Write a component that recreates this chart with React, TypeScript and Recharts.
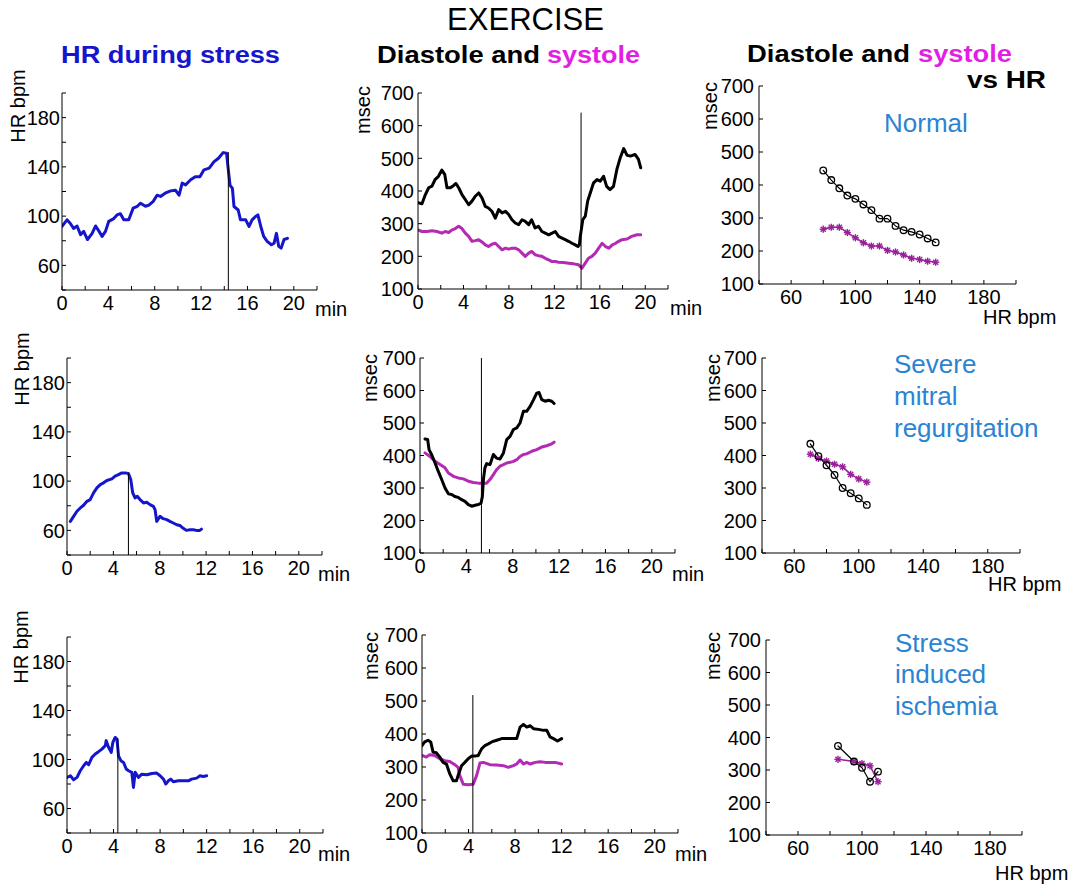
import React from 'react';
import { LineChart, Line, XAxis, YAxis, ReferenceLine } from 'recharts';

const FONT = '"Liberation Sans", Arial, Helvetica, sans-serif';
const BLUE = '#1515cc';
const MAG_LINE = '#b42ab4';
const MAG_TEXT = '#e31ee3';
const PURPLE = '#9a1f9a';
const COND = '#2b83d3';

// ---------- Row 1 : Normal ----------
const hrNormalT = [0,0.43,0.72,1.0,1.3,1.6,1.87,2.2,2.6,2.9,3.2,3.46,3.75,4.03,4.47,4.75,5.04,5.33,5.76,6.14,6.5,6.77,7.2,7.5,7.87,8.2,8.5,8.9,9.37,9.8,10.1,10.37,10.66,11.1,11.5,11.9,12.25,12.7,13.1,13.5,13.9,14.2,14.32,14.5,14.7,14.84,15.2,15.4,15.85,16.14,16.4,16.7,16.9,17.15,17.4,17.7,18.07,18.3,18.5,18.7,18.9,19.16,19.45];
const hrNormal = [91.6,97,94,90,92,85,87.6,81,86,92,87.6,83.5,87.6,95.7,98,101,102,97,97,106.5,108,110.5,108,109,112,117,116,118.6,120.5,121,117,126.8,125.4,129.5,132,132,137.6,139,144,147,151.6,151,140,125,122.7,107.8,105,97,97,91.6,97,99.7,101,91.6,83.5,79.5,76.8,78,86,75.4,74,81,82];
const diaNormalT = [0,0.35,0.65,0.94,1.23,1.5,1.8,2.1,2.35,2.55,2.85,3.14,3.34,3.58,3.87,4.16,4.46,4.75,5.04,5.34,5.63,5.92,6.2,6.5,6.8,7.1,7.4,7.7,7.98,8.27,8.56,8.86,9.15,9.44,9.74,10.0,10.3,10.6,10.9,11.2,11.5,11.8,12.08,12.37,12.67,12.96,13.25,13.55,13.84,14.08,14.2,14.28,14.37,14.5,14.72,14.93,15.16,15.45,15.75,16.04,16.33,16.6,16.9,17.2,17.5,17.8,18.1,18.4,18.7,19.1,19.4,19.6];
const diaNormal = [364,361,389,410,415,435,445,464,451,410,410,417,423,410,389,374,358,369,384,394,379,353,348,338,317,343,333,338,328,312,302,297,312,307,297,312,287,292,276,271,266,271,276,261,256,251,246,240,235,230,235,261,281,312,323,369,394,425,435,430,445,414,404,414,466,502,530,509,507,512,497,471];
const sysNormalT = [0,0.35,0.8,1.23,1.67,2.1,2.4,2.7,3.0,3.28,3.58,3.87,4.16,4.46,4.75,5.04,5.34,5.63,5.92,6.2,6.5,6.8,7.1,7.4,7.7,7.98,8.27,8.56,8.86,9.15,9.44,9.74,10.0,10.3,10.6,10.9,11.2,11.5,11.8,12.08,12.37,12.8,13.25,13.7,14.13,14.43,14.72,15.0,15.3,15.6,15.9,16.2,16.5,16.8,17.1,17.4,17.65,17.95,18.4,18.8,19.27,19.6];
const sysNormal = [281,276,276,278,276,271,276,273,281,285,292,285,271,261,246,248,251,244,235,230,237,240,230,220,225,222,225,225,220,210,200,210,215,205,202,200,194,189,184,184,182,181,179,177,174,164,179,194,200,210,225,240,230,225,235,240,246,251,253,261,266,266];
const hrNormalBins = [80,85,90,95,100,105,110,115,120,125,130,135,140,145,150];
const diaNormalVsHr = [444,415,390,368,358,341,324,298,298,276,263,258,250,238,226];
const sysNormalVsHr = [266,272,272,256,240,225,215,215,202,197,188,178,174,169,166];
const peakNormal = [14.35, 152, 640]; // time, HR at peak, top of marker (msec)

// ---------- Row 2 : Severe mitral regurgitation ----------
const hrMrT = [0.29,0.57,0.86,1.15,1.43,1.72,2.0,2.29,2.58,2.87,3.15,3.44,3.87,4.15,4.44,4.73,5.0,5.3,5.5,5.67,5.87,6.07,6.3,6.6,6.88,7.16,7.45,7.6,7.74,8.02,8.3,8.6,8.88,9.17,9.46,9.74,10.0,10.3,10.6,10.9,11.17,11.46,11.6];
const hrMr = [67.3,71.4,75.5,78.2,80.4,83.6,85,90.4,94.5,97.2,98.6,100.5,101.8,104,105.3,106.7,106.7,106.2,101.3,90.4,86.3,87.7,85,82.3,82.8,80.9,79.5,76.8,67.3,71.4,69.5,68.7,67.3,66,64.6,64,61.9,60,60.5,60.5,60,60,61];
const diaMrT = [0.43,0.66,0.78,1.0,1.3,1.58,1.87,2.16,2.45,2.73,3.0,3.3,3.6,3.88,4.17,4.46,4.75,5.04,5.27,5.38,5.47,5.6,5.75,6.04,6.33,6.6,6.9,7.2,7.48,7.77,8.06,8.35,8.63,8.92,9.2,9.5,9.8,10.07,10.27,10.5,10.8,11.08,11.37,11.57];
const diaMr = [451,449,418,403,377,351,326,300,282,280,274,271,264,259,249,244,247,249,254,274,326,362,375,372,403,392,389,408,449,459,480,485,500,536,536,551,572,592,594,572,567,570,567,560];
const sysMrT = [0.43,0.86,1.3,1.73,2.16,2.45,2.88,3.3,3.74,4.17,4.6,5.04,5.47,5.75,6.04,6.33,6.6,6.9,7.2,7.48,7.77,8.06,8.35,8.63,8.92,9.2,9.64,10.07,10.5,10.93,11.37,11.57];
const sysMr = [408,397,382,372,362,346,336,331,328,321,317,315,315,315,326,341,356,367,372,377,379,382,387,397,403,405,413,418,426,430,436,441];
const hrMrBins = [70,75,80,85,90,95,100,105];
const diaMrVsHr = [436,398,370,340,300,284,268,248];
const sysMrVsHr = [404,391,383,373,365,342,328,318];
const peakMr = [5.3, 106, 700];

// ---------- Row 3 : Stress induced ischemia ----------
const hrIscT = [0,0.29,0.57,0.86,1.14,1.43,1.66,1.86,2.14,2.43,2.71,3.0,3.29,3.37,3.57,3.8,3.94,4.14,4.29,4.43,4.63,4.86,5.09,5.29,5.57,5.71,5.86,6.14,6.43,6.86,7.29,7.71,8.0,8.29,8.49,8.71,8.91,9.14,9.57,10.0,10.43,10.71,11.14,11.43,11.71,12.0];
const hrIsc = [85.4,86.7,83.5,85.4,90.8,94.9,97.6,95.7,101.7,104.5,106.4,108.5,111.3,115.4,110,105.8,114,118,116.7,103,99,97.6,92.2,90.8,89.5,77.2,89.5,85.4,88,87.5,88.6,88.9,86.7,84,80,82.6,84,81.8,82.6,82.6,82.6,84,84.8,86.7,86.2,86.7];
const diaIscT = [0,0.23,0.52,0.75,0.95,1.24,1.53,1.81,2.1,2.39,2.68,2.96,3.1,3.4,3.68,3.97,4.26,4.55,4.83,5.12,5.41,5.7,5.99,6.42,6.85,7.28,7.71,8.14,8.43,8.72,9.0,9.3,9.58,10.0,10.45,10.73,11.0,11.3,11.65,12.0];
const diaIsc = [365,376,381,376,345,343,330,314,309,279,258,258,274,304,314,325,333,333,335,355,365,370,376,381,386,386,386,386,421,429,421,425,416,414,411,411,391,386,379,386];
const sysIscT = [0,0.37,0.66,1.09,1.53,1.96,2.39,2.82,3.1,3.25,3.54,3.97,4.4,4.69,4.98,5.27,5.84,6.42,7.0,7.42,7.86,8.14,8.43,8.72,9.0,9.3,9.73,10.16,10.6,11.0,11.45,12.0];
const sysIsc = [335,330,337,335,325,319,317,307,299,274,248,246,248,274,312,314,307,306,304,299,304,309,321,309,314,309,314,316,314,314,314,309];
const hrIscBins = [85,95,100,105,110];
const diaIscVsHr = [374,326,307,264,295];
const sysIscVsHr = [333,326,320,313,264];
const peakIsc = [4.37, 117, 518];

// ---------- Axes ----------
const timeTicks = [0,2,4,6,8,10,12,14,16,18,20,22];
const timeLabels = [0,4,8,12,16,20];
const hrTicks = [40,60,80,100,120,140,160,180,200];
const hrLabels = [60,100,140,180];
const msTicks = [100,200,300,400,500,600,700];
const msLabels = [100,200,300,400,500,600,700];

const TICK_FS = 20;

const zip = (xs: number[], ys: number[], xk: string, yk: string) =>
  xs.map((x, i) => ({ [xk]: x, [yk]: ys[i] }));

function XTick(props: any) {
  const { x, y, payload, show } = props;
  const v = payload.value;
  return (
    <g>
      <line x1={x} x2={x} y1={y} y2={y - 4} stroke="#000" strokeWidth={1} />
      {show.includes(v) && (
        <text x={x} y={y + 6} dy="0.72em" textAnchor="middle" fontSize={TICK_FS} fontFamily={FONT} fill="#000">{v}</text>
      )}
    </g>
  );
}

function YTick(props: any) {
  const { x, y, payload, show, gap } = props;
  const v = payload.value;
  return (
    <g>
      <line x1={x} x2={x + 4} y1={y} y2={y} stroke="#000" strokeWidth={1} />
      {show.includes(v) && (
        <text x={x - gap} y={y} dy="0.36em" textAnchor="end" fontSize={TICK_FS} fontFamily={FONT} fill="#000">{v}</text>
      )}
    </g>
  );
}

const circleDot = (p: any) =>
  p.cx == null ? <g key={`c${p.index}`} /> : (
    <circle key={`c${p.index}`} cx={p.cx} cy={p.cy} r={3.3} fill="none" stroke="#000" strokeWidth={1.3} />
  );

const starDot = (p: any) => {
  if (p.cx == null) return <g key={`s${p.index}`} />;
  const r = 3.6, d = r * 0.7071, cx = p.cx, cy = p.cy;
  return (
    <g key={`s${p.index}`} stroke={PURPLE} strokeWidth={1.4}>
      <line x1={cx - r} y1={cy} x2={cx + r} y2={cy} />
      <line x1={cx} y1={cy - r} x2={cx} y2={cy + r} />
      <line x1={cx - d} y1={cy - d} x2={cx + d} y2={cy + d} />
      <line x1={cx - d} y1={cy + d} x2={cx + d} y2={cy - d} />
    </g>
  );
};

type Box = { x0: number; y0: number; x1: number; y1: number };
type Series = { data: any[]; yKey: string; color: string; width: number; dot?: any };

function Panel(props: {
  box: Box; xKey: string; xDomain: number[]; xTicks: number[]; xShow: number[];
  yDomain: number[]; yTicks: number[]; yShow: number[]; yGap: number;
  series: Series[]; marker?: { x: number; y0: number; y1: number };
}) {
  const { box, xKey, xDomain, xTicks, xShow, yDomain, yTicks, yShow, yGap, series, marker } = props;
  const YW = 50, MT = 10, MR = 12, XH = 30;
  const w = box.x1 - box.x0 + YW + MR;
  const h = box.y1 - box.y0 + MT + XH;
  return (
    <div style={{ position: 'absolute', left: box.x0 - YW, top: box.y0 - MT, width: w, height: h }}>
      <LineChart width={w} height={h} margin={{ top: MT, right: MR, left: 0, bottom: 0 }}>
        <XAxis
          type="number" dataKey={xKey} domain={xDomain} ticks={xTicks} interval={0}
          height={XH} tickSize={0} tickMargin={0} tickLine={false}
          axisLine={{ stroke: '#000', strokeWidth: 1 }} allowDataOverflow
          tick={(p: any) => <XTick {...p} show={xShow} />}
        />
        <YAxis
          type="number" domain={yDomain} ticks={yTicks} interval={0}
          width={YW} tickSize={0} tickMargin={0} tickLine={false}
          axisLine={{ stroke: '#000', strokeWidth: 1 }} allowDataOverflow
          tick={(p: any) => <YTick {...p} show={yShow} gap={yGap} />}
        />
        {series.map((s, i) => (
          <Line
            key={i} data={s.data} dataKey={s.yKey} type="linear" stroke={s.color}
            strokeWidth={s.width} strokeLinejoin="round" strokeLinecap="round"
            dot={s.dot ?? false} activeDot={false} isAnimationActive={false}
          />
        ))}
        {marker && (
          <ReferenceLine
            segment={[{ x: marker.x, y: marker.y0 }, { x: marker.x, y: marker.y1 }]}
            stroke="#000" strokeWidth={1}
          />
        )}
      </LineChart>
    </div>
  );
}

function HRPanel({ box, t, v, peak }: { box: Box; t: number[]; v: number[]; peak: number[] }) {
  return (
    <Panel
      box={box} xKey="t" xDomain={[0, 22]} xTicks={timeTicks} xShow={timeLabels}
      yDomain={[40, 200]} yTicks={hrTicks} yShow={hrLabels} yGap={2}
      series={[{ data: zip(t, v, 't', 'v'), yKey: 'v', color: BLUE, width: 3 }]}
      marker={{ x: peak[0], y0: 40, y1: peak[1] }}
    />
  );
}

function IntervalPanel({ box, dt, d, st, s, peak }: { box: Box; dt: number[]; d: number[]; st: number[]; s: number[]; peak: number[] }) {
  return (
    <Panel
      box={box} xKey="t" xDomain={[0, 22]} xTicks={timeTicks} xShow={timeLabels}
      yDomain={[100, 700]} yTicks={msTicks} yShow={msLabels} yGap={4}
      series={[
        { data: zip(st, s, 't', 'v'), yKey: 'v', color: MAG_LINE, width: 3 },
        { data: zip(dt, d, 't', 'v'), yKey: 'v', color: '#000', width: 3 },
      ]}
      marker={{ x: peak[0], y0: 100, y1: peak[2] }}
    />
  );
}

function VsHRPanel({ box, hr, d, s }: { box: Box; hr: number[]; d: number[]; s: number[] }) {
  return (
    <Panel
      box={box} xKey="hr" xDomain={[40, 200]} xTicks={hrTicks} xShow={hrLabels}
      yDomain={[100, 700]} yTicks={msTicks} yShow={msLabels} yGap={5}
      series={[
        { data: zip(hr, s, 'hr', 'v'), yKey: 'v', color: PURPLE, width: 1.5, dot: starDot },
        { data: zip(hr, d, 'hr', 'v'), yKey: 'v', color: '#000', width: 1.2, dot: circleDot },
      ]}
    />
  );
}

function VText({ x, y, text }: { x: number; y: number; text: string }) {
  return (
    <text transform={`translate(${x},${y}) rotate(-90)`} textAnchor="middle" fontSize={20} fontFamily={FONT} fill="#000">{text}</text>
  );
}

function T({ x, y, text, size = 20, color = '#000', bold = false, len }: any) {
  return (
    <text x={x} y={y} fontSize={size} fontFamily={FONT} fill={color} fontWeight={bold ? 'bold' : 'normal'}
      {...(len ? { textLength: len, lengthAdjust: 'spacingAndGlyphs' } : {})}>{text}</text>
  );
}

export default function App() {
  return (
    <div style={{ position: 'absolute', left: 0, top: 0, width: 1070, height: 890, background: '#fff', overflow: 'hidden' }}>
      <HRPanel box={{ x0: 62, y0: 93, x1: 317, y1: 290 }} t={hrNormalT} v={hrNormal} peak={peakNormal} />
      <IntervalPanel box={{ x0: 418, y0: 93, x1: 668, y1: 289 }} dt={diaNormalT} d={diaNormal} st={sysNormalT} s={sysNormal} peak={peakNormal} />
      <VsHRPanel box={{ x0: 759, y0: 86, x1: 1016, y1: 284 }} hr={hrNormalBins} d={diaNormalVsHr} s={sysNormalVsHr} />

      <HRPanel box={{ x0: 67, y0: 358, x1: 322, y1: 555 }} t={hrMrT} v={hrMr} peak={peakMr} />
      <IntervalPanel box={{ x0: 420, y0: 358, x1: 675, y1: 553 }} dt={diaMrT} d={diaMr} st={sysMrT} s={sysMr} peak={peakMr} />
      <VsHRPanel box={{ x0: 762, y0: 358, x1: 1020, y1: 553 }} hr={hrMrBins} d={diaMrVsHr} s={sysMrVsHr} />

      <HRPanel box={{ x0: 67, y0: 637, x1: 323, y1: 833 }} t={hrIscT} v={hrIsc} peak={peakIsc} />
      <IntervalPanel box={{ x0: 422, y0: 635, x1: 678, y1: 833 }} dt={diaIscT} d={diaIsc} st={sysIscT} s={sysIsc} peak={peakIsc} />
      <VsHRPanel box={{ x0: 766, y0: 640, x1: 1022, y1: 835 }} hr={hrIscBins} d={diaIscVsHr} s={sysIscVsHr} />

      <svg width={1070} height={890} style={{ position: 'absolute', left: 0, top: 0, pointerEvents: 'none' }}>
        <text x={525.5} y={30} textAnchor="middle" fontSize={31} fontFamily={FONT} fill="#000">EXERCISE</text>
        <T x={61} y={63} text="HR during stress" size={23} bold color={BLUE} len={219} />
        <T x={377} y={63} text="Diastole and" size={23} bold len={163} />
        <T x={547} y={63} text="systole" size={23} bold color={MAG_TEXT} len={93} />
        <T x={747} y={62} text="Diastole and" size={23} bold len={163} />
        <T x={918} y={62} text="systole" size={23} bold color={MAG_TEXT} len={94} />
        <T x={967} y={88} text="vs HR" size={23} bold len={79} />

        <VText x={25} y={106} text="HR bpm" />
        <VText x={29} y={369} text="HR bpm" />
        <VText x={28} y={647} text="HR bpm" />
        <VText x={370} y={110} text="msec" />
        <VText x={377} y={378} text="msec" />
        <VText x={378} y={656} text="msec" />
        <VText x={717} y={106} text="msec" />
        <VText x={720} y={378} text="msec" />
        <VText x={720} y={656} text="msec" />

        <T x={315} y={316} text="min" />
        <T x={670} y={315} text="min" />
        <T x={318} y={581} text="min" />
        <T x={672} y={581} text="min" />
        <T x={318} y={861} text="min" />
        <T x={675} y={861} text="min" />
        <T x={983} y={324} text="HR bpm" />
        <T x={988} y={591} text="HR bpm" />
        <T x={995} y={880} text="HR bpm" />

        <T x={884} y={132} text="Normal" size={26} color={COND} />
        <T x={894} y={373} text="Severe" size={26} color={COND} />
        <T x={894} y={405} text="mitral" size={26} color={COND} />
        <T x={894} y={437} text="regurgitation" size={26} color={COND} />
        <T x={895} y={652} text="Stress" size={26} color={COND} />
        <T x={895} y={683} text="induced" size={26} color={COND} />
        <T x={895} y={715} text="ischemia" size={26} color={COND} />
      </svg>
    </div>
  );
}
